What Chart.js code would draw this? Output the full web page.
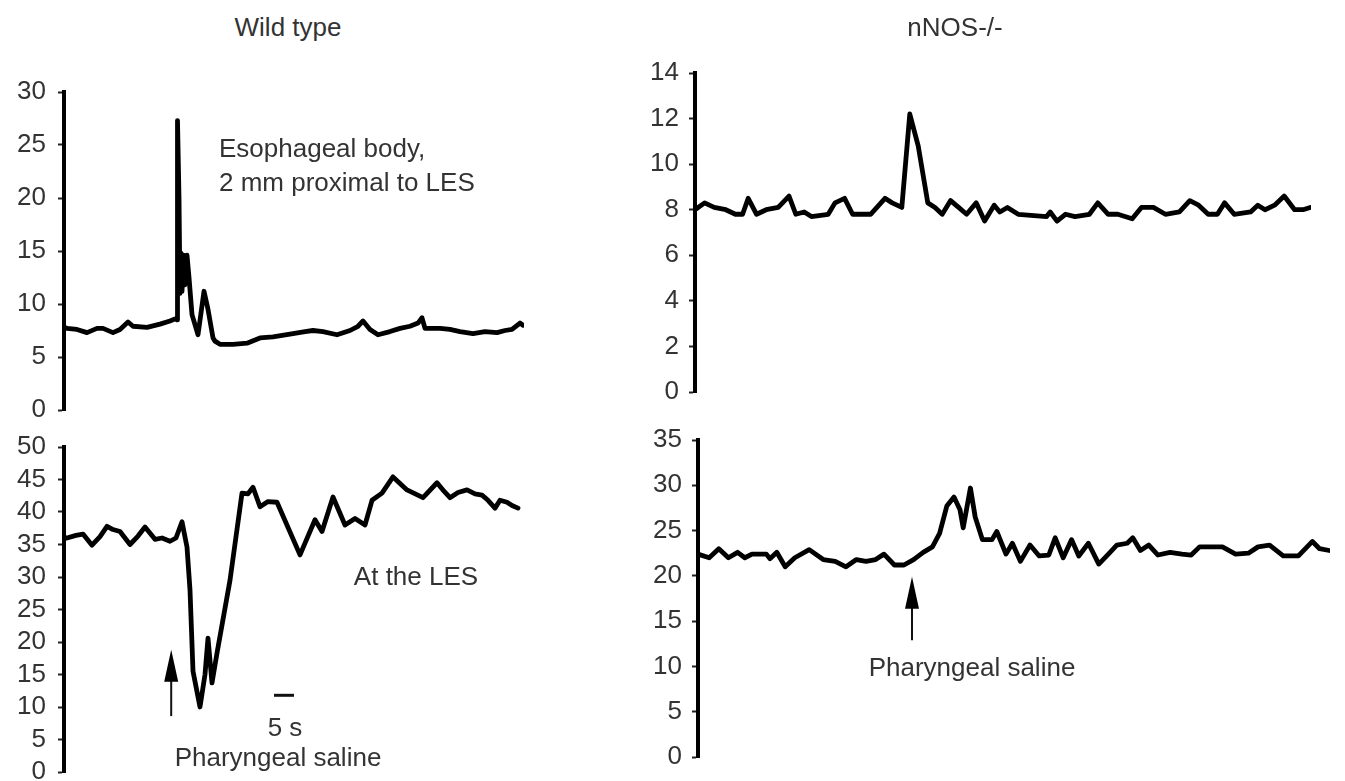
<!DOCTYPE html>
<html>
<head>
<meta charset="utf-8">
<script src="https://cdn.jsdelivr.net/npm/chart.js@4.4.1/dist/chart.umd.min.js"></script>
<style>
  html, body { margin: 0; padding: 0; background: #fff; width: 1345px; height: 781px; overflow: hidden; }
  .panel { position: absolute; }
  .txt { position: absolute; font-family: "Liberation Sans", Arial, sans-serif; font-size: 26px; color: #333; white-space: nowrap; line-height: 1; }
  .c { transform: translate(-50%, -50%); }
  .l { transform: translate(0, -50%); }
</style>
</head>
<body>
<div class="panel" id="p1"><canvas id="wtBody"></canvas></div>
<div class="panel" id="p2"><canvas id="wtLes"></canvas></div>
<div class="panel" id="p3"><canvas id="koBody"></canvas></div>
<div class="panel" id="p4"><canvas id="koLes"></canvas></div>

<div class="txt c" style="left:288px; top:27px;">Wild type</div>
<div class="txt c" style="left:955px; top:27px;">nNOS-/-</div>
<div class="txt l" style="left:219px; top:148px;">Esophageal body,</div>
<div class="txt l" style="left:219px; top:182px;">2 mm proximal to LES</div>
<div class="txt c" style="left:416px; top:576px;">At the LES</div>
<div class="txt c" style="left:285px; top:727px;">5 s</div>
<div class="txt c" style="left:278px; top:757px;">Pharyngeal saline</div>
<div class="txt c" style="left:972px; top:667px;">Pharyngeal saline</div>

<script>
// time in seconds, pressure in mmHg

// Wild type, esophageal body
const wtBodyTime = [0, 0.75, 3.25, 5.75, 8.25, 9.75, 12.25, 14, 16, 17.25, 20.75, 24, 26.5, 27.75, 28.25, 28.375, 28.75, 29, 29.25, 29.5, 29.875, 30.25, 30.75, 31.25, 32, 33.5, 35, 36, 37.25, 37.75, 39, 42.25, 45.75, 49, 52.25, 57.25, 60.25, 62.25, 64.75, 68.25, 71.5, 73.5, 74.75, 76.5, 78.5, 81.5, 84, 86.5, 88.5, 89.5, 90.25, 94, 96.5, 99, 102.25, 105.25, 108.25, 110.25, 112, 114, 114.75];
const wtBodyPressure = [7.8, 7.7, 7.6, 7.3, 7.7, 7.7, 7.3, 7.6, 8.3, 7.9, 7.8, 8.1, 8.4, 8.6, 8.5, 27.3, 20, 11, 14.8, 11.2, 14.6, 11.8, 14.6, 12.5, 9, 7.1, 11.2, 9.5, 6.8, 6.5, 6.2, 6.2, 6.3, 6.8, 6.9, 7.2, 7.4, 7.5, 7.4, 7.1, 7.5, 7.9, 8.4, 7.6, 7.1, 7.4, 7.7, 7.9, 8.2, 8.7, 7.7, 7.7, 7.6, 7.4, 7.2, 7.4, 7.3, 7.5, 7.6, 8.2, 8.0];

// Wild type, at the LES
const wtLesTime = [0, 0.75, 3, 4.75, 7, 9, 10.75, 12.25, 14, 16.5, 18.5, 20.25, 22.75, 24.5, 26.5, 28, 29.5, 30.75, 31.5, 32.25, 34, 35.25, 36, 37, 38.25, 41.5, 44.5, 46, 47.25, 49, 51, 53.25, 59, 62.75, 64.5, 67.25, 70.25, 72.75, 75.25, 77, 79.5, 82.25, 85.75, 89.75, 93.25, 95, 96.5, 98.5, 100.75, 102.75, 104.5, 106, 107.75, 109, 110.75, 112, 113.5];
const wtLesPressure = [36.0, 36.0, 36.4, 36.6, 34.9, 36.2, 37.8, 37.3, 37.0, 35.0, 36.3, 37.7, 35.8, 36.0, 35.5, 36.0, 38.5, 34.6, 28, 15.5, 10, 15, 20.6, 13.7, 18.3, 29.5, 42.9, 42.8, 43.8, 40.8, 41.6, 41.5, 33.4, 38.8, 37, 42.3, 38, 39, 38, 41.8, 42.9, 45.4, 43.4, 42.2, 44.5, 43.2, 42.2, 43.0, 43.4, 42.8, 42.6, 41.8, 40.6, 41.8, 41.5, 41.0, 40.6];

// nNOS-/-, esophageal body
const koBodyTime = [0, 2.4, 4.8, 7.7, 10.1, 11.9, 13.3, 15.4, 17.8, 20.8, 23.5, 25.2, 27.3, 29.1, 33.3, 35.0, 37.4, 39.4, 43.9, 47.5, 49.3, 51.7, 53.7, 55.8, 58.2, 60.0, 61.8, 63.9, 65.9, 67.9, 70.3, 72.4, 74.8, 76.2, 78.1, 80.8, 87.9, 88.8, 90.5, 92.6, 95.0, 98.6, 100.7, 103.3, 105.7, 109.3, 111.6, 114.6, 117.6, 121.1, 123.7, 125.9, 128.3, 130.6, 132.4, 134.8, 138.9, 140.7, 142.5, 144.9, 147.3, 149.9, 152.0, 153.8];
const koBodyPressure = [8.0, 8.3, 8.1, 8.0, 7.8, 7.8, 8.5, 7.8, 8.0, 8.1, 8.6, 7.8, 7.9, 7.7, 7.8, 8.3, 8.5, 7.8, 7.8, 8.5, 8.3, 8.1, 12.2, 10.8, 8.3, 8.1, 7.8, 8.4, 8.1, 7.8, 8.3, 7.5, 8.2, 7.9, 8.1, 7.8, 7.7, 7.9, 7.5, 7.8, 7.7, 7.8, 8.3, 7.8, 7.8, 7.6, 8.1, 8.1, 7.8, 7.9, 8.4, 8.2, 7.8, 7.8, 8.3, 7.8, 7.9, 8.2, 8.0, 8.2, 8.6, 8.0, 8.0, 8.1];

// nNOS-/-, at the LES
const koLesTime = [0, 2.8, 5.2, 7.6, 9.9, 11.7, 13.5, 17.1, 18.0, 19.7, 21.8, 24.2, 27.8, 31.3, 34.3, 37.0, 39.6, 42.0, 44.4, 46.5, 49.1, 51.5, 53.9, 56.3, 58.6, 60.4, 62.2, 64.0, 65.5, 66.3, 68.1, 69.3, 71.1, 73.5, 74.7, 77.0, 78.6, 80.6, 83.0, 85.3, 87.7, 89.3, 91.3, 93.4, 95.2, 97.6, 100.2, 102.6, 104.7, 107.3, 108.7, 110.6, 112.7, 115.0, 118.0, 121.0, 123.3, 125.4, 128.7, 131.1, 134.4, 137.6, 140.0, 142.9, 146.3, 150.1, 153.6, 155.4, 157.8];
const koLesPressure = [22.4, 22.0, 23.0, 22.0, 22.6, 22.0, 22.4, 22.4, 21.9, 22.6, 21.0, 22.0, 22.9, 21.8, 21.6, 21.0, 21.8, 21.6, 21.8, 22.4, 21.2, 21.2, 21.8, 22.6, 23.2, 24.7, 27.7, 28.7, 27.3, 25.3, 29.7, 26.5, 24.0, 24.0, 24.9, 22.4, 23.6, 21.6, 23.4, 22.2, 22.3, 24.2, 22.0, 24.0, 22.2, 23.6, 21.3, 22.4, 23.4, 23.6, 24.2, 22.8, 23.4, 22.3, 22.6, 22.4, 22.3, 23.2, 23.2, 23.2, 22.4, 22.5, 23.2, 23.4, 22.2, 22.2, 23.8, 23.0, 22.8];

const FONT = '"Liberation Sans", Arial, sans-serif';
const AXIS_W = 70;   // fixed width of the y axis box
const PAD_V = 34;    // bigger than label half height + tick padding

// arrow + scale bar drawn in data coordinates
const markers = {
    id: 'markers',
    afterDatasetsDraw(chart, args, opts) {
        const ctx = chart.ctx;
        const xs = chart.scales.x, ys = chart.scales.y;
        ctx.save();
        if (opts.arrow) {
            const a = opts.arrow;
            const x = xs.getPixelForValue(a.t);
            const yb = ys.getPixelForValue(a.from);
            const yt = ys.getPixelForValue(a.to);
            ctx.strokeStyle = '#111';
            ctx.lineWidth = 2;
            ctx.beginPath();
            ctx.moveTo(x, yb);
            ctx.lineTo(x, yt + 20);
            ctx.stroke();
            ctx.fillStyle = '#000';
            ctx.beginPath();
            ctx.moveTo(x, yt);
            ctx.lineTo(x - 7, yt + 32);
            ctx.lineTo(x + 7, yt + 32);
            ctx.closePath();
            ctx.fill();
        }
        if (opts.bar) {
            const b = opts.bar;
            ctx.strokeStyle = '#111';
            ctx.lineWidth = 3;
            ctx.beginPath();
            ctx.moveTo(xs.getPixelForValue(b.t0), ys.getPixelForValue(b.y));
            ctx.lineTo(xs.getPixelForValue(b.t1), ys.getPixelForValue(b.y));
            ctx.stroke();
        }
        ctx.restore();
    }
};

function makeTrace(id, box, times, values, yMax, yStep, xMax, labelPad, extra) {
    const div = document.getElementById(id).parentNode;
    const width = AXIS_W + box.width + 8;
    const height = box.bottom - box.top + PAD_V * 2;
    div.style.left = (box.axisX - AXIS_W) + 'px';
    div.style.top = (box.top - PAD_V) + 'px';
    div.style.width = width + 'px';
    div.style.height = height + 'px';

    new Chart(document.getElementById(id), {
        type: 'line',
        data: {
            datasets: [{
                data: times.map((t, i) => ({ x: t, y: values[i] })),
                borderColor: '#000',
                borderWidth: 4.8,
                pointRadius: 0,
                tension: 0,
                borderJoinStyle: 'round',
                borderCapStyle: 'round'
            }]
        },
        options: {
            responsive: true,
            maintainAspectRatio: false,
            animation: false,
            layout: { padding: { top: PAD_V, bottom: PAD_V, left: 0, right: 8 } },
            plugins: {
                legend: { display: false },
                tooltip: { enabled: false },
                markers: extra || {}
            },
            scales: {
                x: { type: 'linear', display: false, min: 0, max: xMax },
                y: {
                    min: 0,
                    max: yMax,
                    afterFit(scale) { scale.width = AXIS_W; },
                    ticks: {
                        stepSize: yStep,
                        autoSkip: false,
                        color: '#333',
                        padding: labelPad,
                        font: { family: FONT, size: 26 }
                    },
                    grid: {
                        drawOnChartArea: false,
                        drawTicks: true,
                        tickLength: 6,
                        tickWidth: 2,
                        tickColor: '#222'
                    },
                    border: { display: true, color: '#000', width: 4 }
                }
            }
        },
        plugins: [markers]
    });
}

// 4 px per second on every panel
makeTrace('wtBody', { axisX: 64, top: 92, bottom: 410, width: 460 },
    wtBodyTime, wtBodyPressure, 30, 5, 115, 12);

makeTrace('wtLes', { axisX: 64, top: 447, bottom: 772, width: 460 },
    wtLesTime, wtLesPressure, 50, 5, 115, 12,
    { arrow: { t: 26.8, from: 8.6, to: 18.8 }, bar: { t0: 52.5, t1: 57.5, y: 11.8 } });

makeTrace('koBody', { axisX: 695, top: 73, bottom: 392, width: 616 },
    koBodyTime, koBodyPressure, 14, 2, 154, 10);

makeTrace('koLes', { axisX: 698, top: 440, bottom: 757, width: 632 },
    koLesTime, koLesPressure, 35, 5, 158, 10,
    { arrow: { t: 53.5, from: 12.9, to: 19.9 } });
</script>
</body>
</html>
